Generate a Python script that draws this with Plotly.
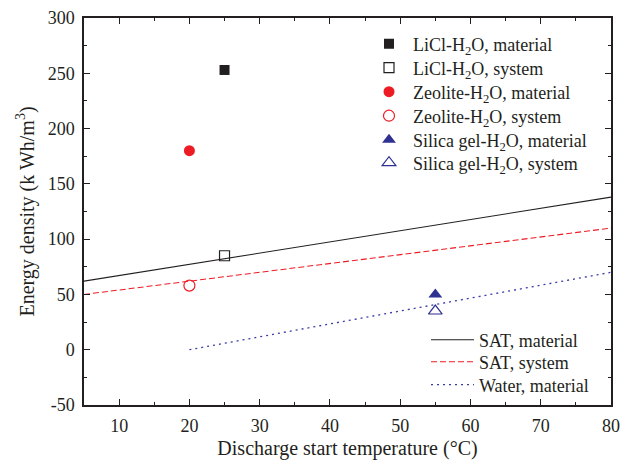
import plotly.graph_objects as go

# Point data
licl_x = [25]
licl_material = [253]
licl_system = [85]
zeolite_x = [20]
zeolite_material = [180]
zeolite_system = [58]
silica_x = [55]
silica_material = [50]
silica_system = [35]

# Line data
sat_x = [5, 80]
sat_material = [62, 138]
sat_system = [50, 110]
water_x = [20, 80]
water_material = [0, 70]

x_ticks = [10, 20, 30, 40, 50, 60, 70, 80]
y_ticks = [-50, 0, 50, 100, 150, 200, 250, 300]
y_ticktext = ["-50", "0", "50", "100", "150", "200", "250", "300"]

FONT = "Liberation Serif"
BLACK = "#231f20"
RED = "#ed1c24"
BLUE = "#2e3192"
BLUE_LINE = "#3a3aa8"

fig = go.Figure()

marker_traces = [
    (licl_x, licl_material, "LiCl-H<sub>2</sub>O, material", dict(symbol="square", size=10, color=BLACK)),
    (licl_x, licl_system, "LiCl-H<sub>2</sub>O, system", dict(symbol="square-open", size=10, color=BLACK, line=dict(width=1.2))),
    (zeolite_x, zeolite_material, "Zeolite-H<sub>2</sub>O, material", dict(symbol="circle", size=11, color=RED)),
    (zeolite_x, zeolite_system, "Zeolite-H<sub>2</sub>O, system", dict(symbol="circle-open", size=11, color=RED, line=dict(width=1.2))),
    (silica_x, silica_material, "Silica gel-H<sub>2</sub>O, material", dict(symbol="triangle-up", size=12, color=BLUE)),
    (silica_x, silica_system, "Silica gel-H<sub>2</sub>O, system", dict(symbol="triangle-up-open", size=12, color=BLUE, line=dict(width=1.2))),
]
line_traces = [
    (sat_x, sat_material, "SAT, material", dict(color=BLACK, width=1.1)),
    (sat_x, sat_system, "SAT, system", dict(color=RED, width=1.1, dash="6px,3px")),
    (water_x, water_material, "Water, material", dict(color=BLUE_LINE, width=1.3, dash="2px,4px")),
]

# legend row centres (pixels from top of figure)
top_rows = [44, 68, 92, 116, 140, 163]
bottom_rows = [340, 362, 385]
PLOT_TOP, PLOT_BOTTOM = 18, 405
PLOT_LEFT, PLOT_RIGHT = 84, 611

def ypaper(py):
    return (PLOT_BOTTOM - py) / (PLOT_BOTTOM - PLOT_TOP)

def xpaper(px):
    return (px - PLOT_LEFT) / (PLOT_RIGHT - PLOT_LEFT)

legends = {}
idx = 1
for (xs, ys, name, mk), row in zip(marker_traces, top_rows):
    key = "legend" if idx == 1 else f"legend{idx}"
    fig.add_trace(go.Scatter(x=xs, y=ys, mode="markers", name=name, marker=mk, legend=key))
    legends[key] = dict(x=xpaper(365), y=ypaper(row), xanchor="left", yanchor="middle",
                        bgcolor="rgba(0,0,0,0)", font=dict(family=FONT, size=18, color=BLACK),
                        itemwidth=38, itemsizing="trace")
    idx += 1
for (xs, ys, name, ln), row in zip(line_traces, bottom_rows):
    key = f"legend{idx}"
    fig.add_trace(go.Scatter(x=xs, y=ys, mode="lines", name=name, line=ln, legend=key))
    legends[key] = dict(x=xpaper(426), y=ypaper(row), xanchor="left", yanchor="middle",
                        bgcolor="rgba(0,0,0,0)", font=dict(family=FONT, size=18, color=BLACK),
                        itemwidth=43)
    idx += 1

axis_common = dict(
    showline=True, linewidth=1.5, linecolor=BLACK, mirror="allticks",
    ticks="inside", ticklen=6, tickwidth=1.2, tickcolor=BLACK,
    showgrid=False, zeroline=False, automargin=False,
    tickfont=dict(family=FONT, size=18, color=BLACK),
)

fig.update_layout(
    width=625, height=461,
    margin=dict(l=PLOT_LEFT, r=625 - PLOT_RIGHT, t=PLOT_TOP, b=461 - PLOT_BOTTOM),
    paper_bgcolor="white", plot_bgcolor="white",
    font=dict(family=FONT, color=BLACK),
    xaxis=dict(range=[5, 80], tickvals=x_ticks, ticklabelstandoff=4,
               minor=dict(ticks="inside", ticklen=3, dtick=5, tick0=0, tickcolor=BLACK, tickwidth=1.2),
               title=dict(text="Discharge start temperature (°C)", font=dict(family=FONT, size=20, color=BLACK), standoff=6),
               **axis_common),
    yaxis=dict(range=[-50, 300], tickvals=y_ticks, ticktext=y_ticktext, ticklabelstandoff=4,
               minor=dict(ticks="inside", ticklen=3, dtick=25, tick0=0, tickcolor=BLACK, tickwidth=1.2),
               title=dict(text="Energy density (k Wh/m<sup>3</sup>)", font=dict(family=FONT, size=20, color=BLACK), standoff=8),
               **axis_common),
    showlegend=True,
    **legends,
)

fig.write_html("out.html")
